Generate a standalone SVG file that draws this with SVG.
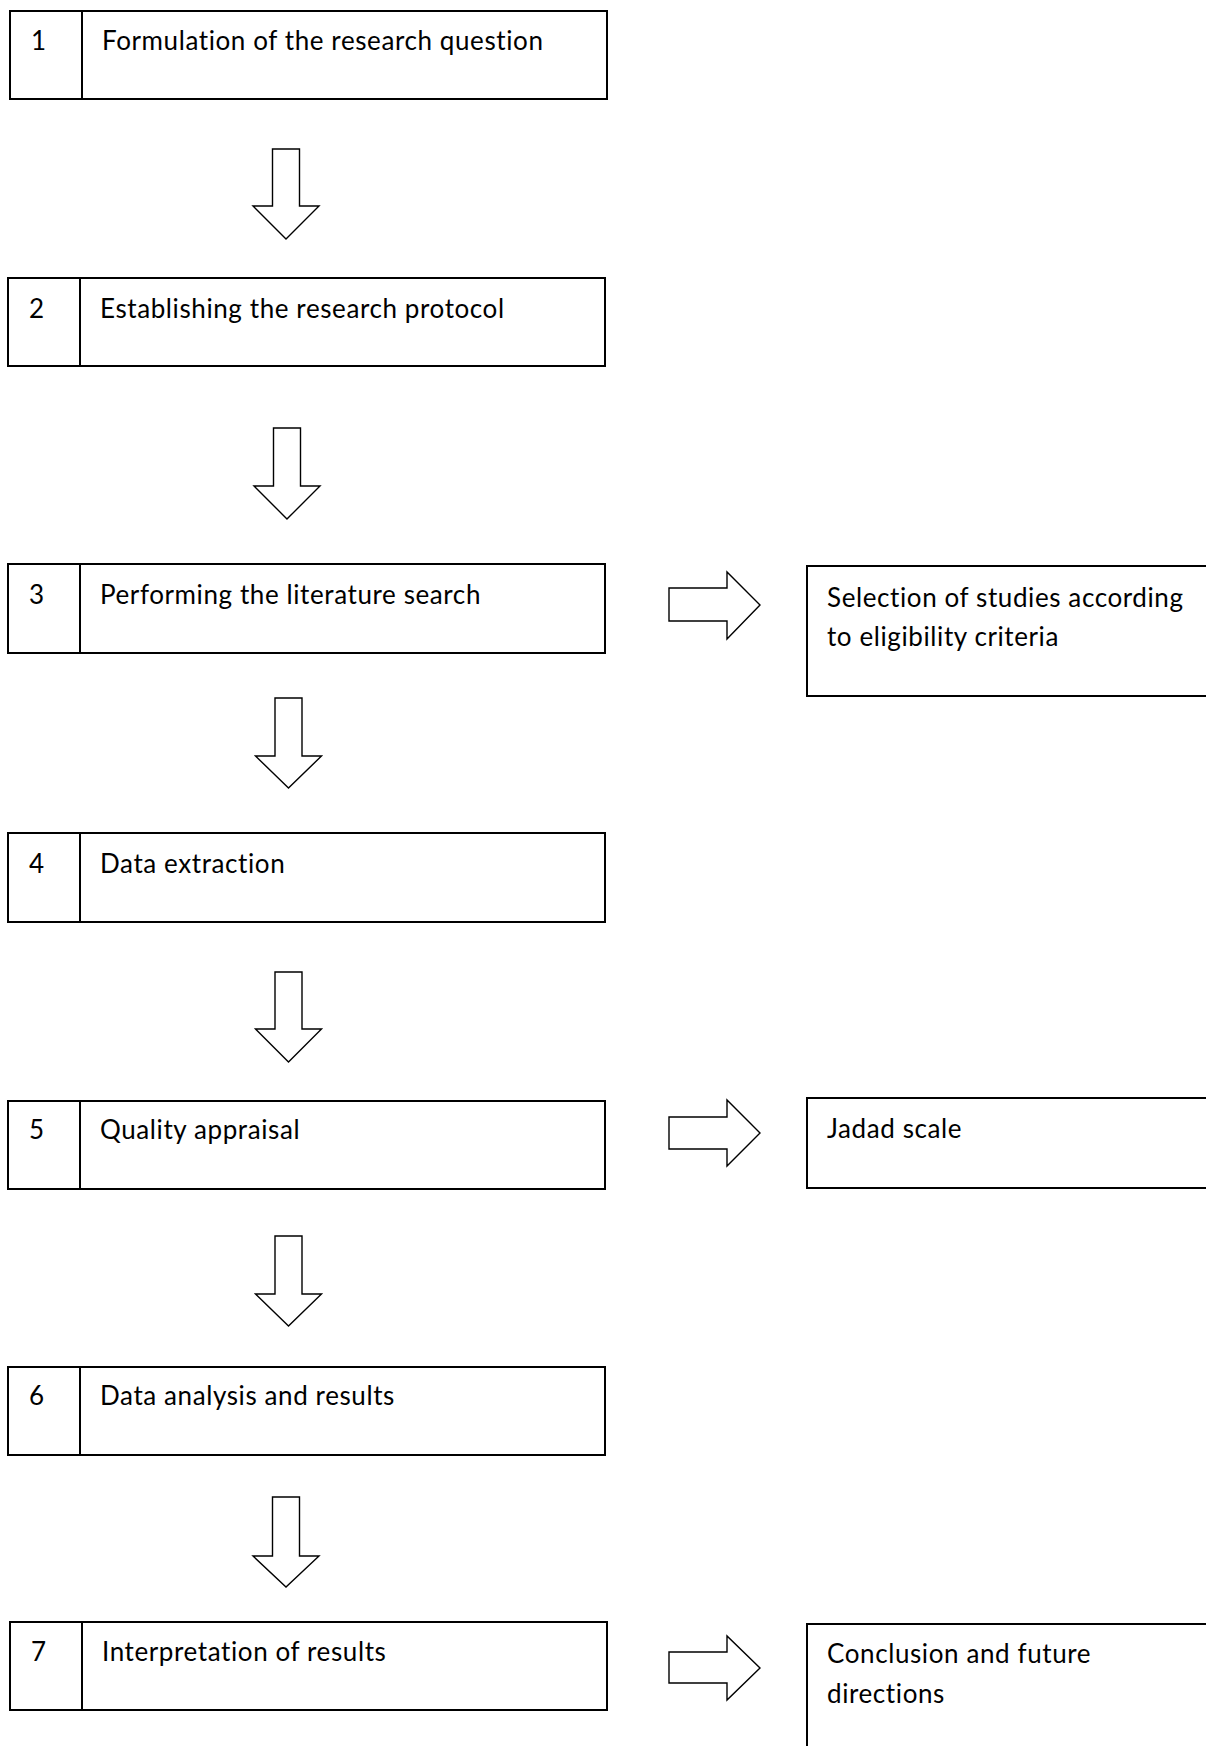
<svg xmlns="http://www.w3.org/2000/svg" width="1206" height="1746" viewBox="0 0 1206 1746">
<style>
.box{fill:#fff;stroke:#000;stroke-width:2}
.div{stroke:#000;stroke-width:2}
.arr{fill:#fff;stroke:#000;stroke-width:1.4;stroke-linejoin:miter}
text{font-family:Lato,"Liberation Sans",sans-serif;font-size:26px;letter-spacing:0.6px;fill:#000}
</style>
<rect width="1206" height="1746" fill="#fff"/>
<g id="connectors">
<path class="arr" d="M272.5,149 H299.5 V206 H319 L286,239 L253,206 H272.5 Z"/>
<path class="arr" d="M273.5,428 H300.5 V486 H320 L287,519 L254,486 H273.5 Z"/>
<path class="arr" d="M275,698 H302 V756 H321.5 L288.5,788 L255.5,756 H275 Z"/>
<path class="arr" d="M275,972 H302 V1029 H321.5 L288.5,1062 L255.5,1029 H275 Z"/>
<path class="arr" d="M275,1236 H302 V1294 H321.5 L288.5,1326 L255.5,1294 H275 Z"/>
<path class="arr" d="M272.5,1497 H299.5 V1556 H319 L286,1587 L253,1556 H272.5 Z"/>
<path class="arr" d="M669,588 V621 H727 V639 L760,605 L727,572 V588 Z"/>
<path class="arr" d="M669,1117 V1149 H727 V1166 L760,1133 L727,1100 V1117 Z"/>
<path class="arr" d="M669,1652 V1683 H727 V1700 L760,1668 L727,1636 V1652 Z"/>
</g>
<g id="n1"><rect class="box" x="10" y="11" width="597" height="88"/><line class="div" x1="82" y1="11" x2="82" y2="99"/><text x="31" y="50">1</text><text x="102" y="50">Formulation of the research question</text></g>
<g id="n2"><rect class="box" x="8" y="278" width="597" height="88"/><line class="div" x1="80" y1="278" x2="80" y2="366"/><text x="29" y="318">2</text><text x="100" y="318">Establishing the research protocol</text></g>
<g id="n3"><rect class="box" x="8" y="564" width="597" height="89"/><line class="div" x1="80" y1="564" x2="80" y2="653"/><text x="29" y="604">3</text><text x="100" y="604">Performing the literature search</text></g>
<g id="n4"><rect class="box" x="8" y="833" width="597" height="89"/><line class="div" x1="80" y1="833" x2="80" y2="922"/><text x="29" y="873">4</text><text x="100" y="873">Data extraction</text></g>
<g id="n5"><rect class="box" x="8" y="1101" width="597" height="88"/><line class="div" x1="80" y1="1101" x2="80" y2="1189"/><text x="29" y="1139">5</text><text x="100" y="1139">Quality appraisal</text></g>
<g id="n6"><rect class="box" x="8" y="1367" width="597" height="88"/><line class="div" x1="80" y1="1367" x2="80" y2="1455"/><text x="29" y="1405">6</text><text x="100" y="1405">Data analysis and results</text></g>
<g id="n7"><rect class="box" x="10" y="1622" width="597" height="88"/><line class="div" x1="82" y1="1622" x2="82" y2="1710"/><text x="31" y="1661">7</text><text x="102" y="1661">Interpretation of results</text></g>
<g id="s3"><rect class="box" x="807" y="566" width="410" height="130"/><text x="827" y="607">Selection of studies according</text><text x="827" y="646">to eligibility criteria</text></g>
<g id="s5"><rect class="box" x="807" y="1098" width="410" height="90"/><text x="827" y="1138">Jadad scale</text></g>
<g id="s7"><rect class="box" x="807" y="1624" width="410" height="140"/><text x="827" y="1663">Conclusion and future</text><text x="827" y="1703">directions</text></g>
</svg>
